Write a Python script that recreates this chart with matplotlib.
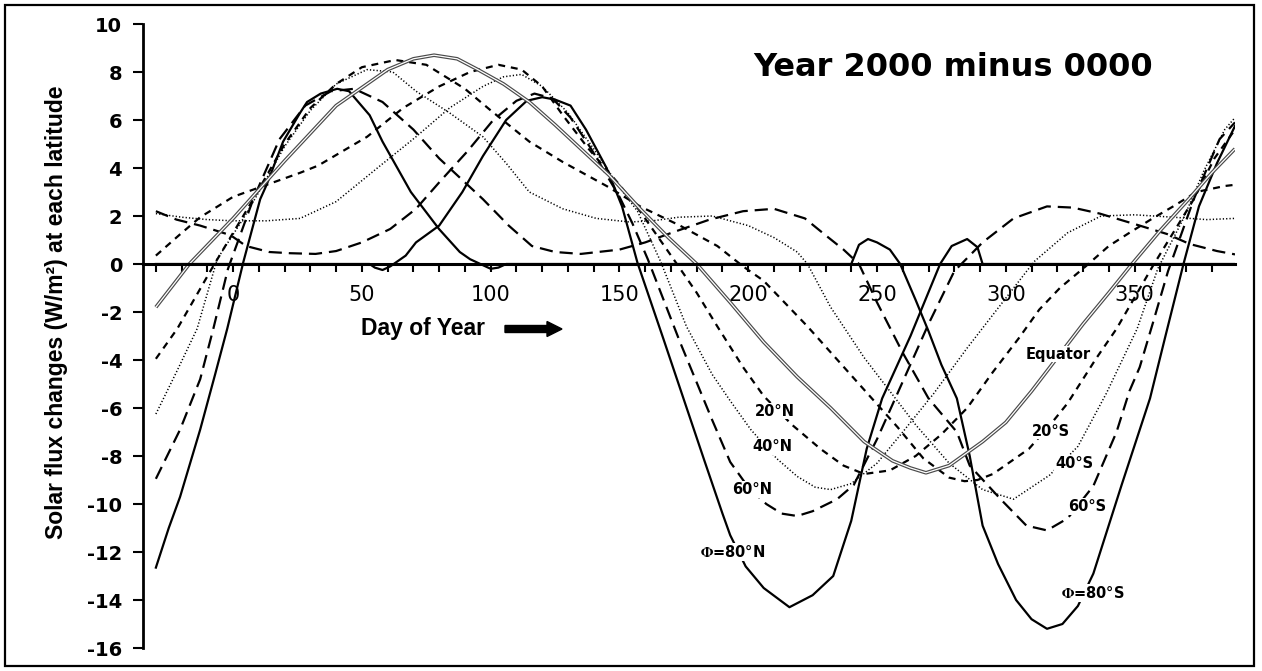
import numpy as np
import matplotlib
matplotlib.use("Agg")
import matplotlib.pyplot as plt
from matplotlib.patches import FancyArrow, Rectangle
from matplotlib.transforms import IdentityTransform

plt.rcParams['lines.scale_dashes'] = False
plt.rcParams['mathtext.fontset'] = 'stix'

# day of year vs. flux change (W/m^2), one pair of lists per latitude
eq_day = [-30, -17, 0, 20, 40, 60, 70, 78, 87, 95, 105, 115, 125, 135, 146, 158, 169, 180, 193,
          206, 219, 232, 245, 256, 263, 269, 278, 291, 300, 310, 320, 330, 340, 349, 360, 371, 380, 389]
eq_val = [-1.8, 0, 1.9, 4.3, 6.6, 8.1, 8.55, 8.7, 8.55, 8.1, 7.5, 6.75, 5.8, 4.8, 3.7, 2.3, 1.1, 0, -1.6,
          -3.25, -4.7, -6.0, -7.4, -8.2, -8.5, -8.7, -8.4, -7.4, -6.6, -5.3, -3.9, -2.5, -1.2, 0, 1.4, 2.7, 3.8, 4.8]

n20_day = [-30, -21, -12.8, -6, 0, 13, 26, 33, 52, 66, 80, 92, 103, 112, 120, 128, 138, 150, 158, 171,
           180, 188, 198, 206, 217, 228, 237, 245, 255, 265, 275, 285, 295, 305, 313, 321, 331, 340,
           348, 357, 365, 374, 385, 389]
n20_val = [0.35, 1.2, 1.95, 2.4, 2.8, 3.3, 3.8, 4.1, 5.3, 6.5, 7.4, 8.0, 8.3, 8.1, 7.4, 6.2, 4.8, 3.3, 2.2, 0.2,
           -1.2, -2.6, -4.3, -5.5, -6.7, -7.7, -8.4, -8.75, -8.6, -8.0, -7.1, -6.0, -4.5, -3.1, -1.9, -1.0, -0.1, 0.75,
           1.3, 1.9, 2.4, 3.0, 3.25, 3.3]

n40_day = [-30, -20, -10, 0, 13, 26, 40, 56, 71, 84, 97, 105, 112, 120, 130, 140, 150, 157, 166, 176,
           186, 193, 201, 211, 219, 226, 232, 240, 250, 260, 272, 285, 298, 311, 324, 337, 350, 365, 378, 389]
n40_val = [2.1, 1.95, 1.85, 1.8, 1.8, 1.9, 2.6, 4.0, 5.3, 6.5, 7.4, 7.8, 7.9, 7.4, 6.3, 4.8, 3.2, 2.2, 0.1, -2.6,
           -4.6, -5.7, -6.9, -8.1, -8.85, -9.3, -9.4, -9.15, -8.3, -7.0, -5.4, -3.5, -1.7, 0.1, 1.3, 2.0, 2.05, 1.95,
           1.85, 1.9]

n60_day = [-30, -22, -12.8, -1, 5, 14, 22, 32, 40, 50, 61, 71, 80, 91, 101, 110, 117, 124, 131, 139,
           150, 155, 161, 173.5, 186, 193, 200, 207, 213, 219, 225, 234.5, 241, 250, 260, 270, 280, 291,
           303, 316, 326, 336.5, 352, 362.6, 371.5, 382, 389]
n60_val = [2.2, 1.85, 1.6, 1.2, 0.75, 0.5, 0.45, 0.42, 0.54, 0.9, 1.46, 2.3, 3.4, 4.7, 6.0, 6.8, 7.1, 6.9, 6.1, 4.8,
           2.8, 1.7, 0.2, -3.25, -6.5, -8.25, -9.3, -10.0, -10.4, -10.5, -10.3, -9.8, -9.2, -7.3, -4.9, -2.5, -0.3, 0.9,
           1.9, 2.4, 2.35, 2.1, 1.6, 1.25, 0.83, 0.54, 0.4]

n80_day = [-30, 53, 55, 58, 61, 63, 67, 71, 80, 89, 97, 106, 114, 120, 125, 131, 137, 145, 151, 157,
           167, 175, 183, 190, 193, 199, 206, 216, 225, 233, 240, 246, 252, 263, 274.5, 279, 285, 289, 291, 389]
n80_val = [0, 0, -0.15, -0.25, -0.1, 0.05, 0.35, 0.9, 1.6, 3.0, 4.5, 6.0, 6.8, 6.95, 6.85, 6.6, 5.6, 4.0, 2.4, 0.05,
           -3.1, -5.65, -8.2, -10.4, -11.3, -12.6, -13.5, -14.3, -13.8, -13.0, -10.7, -7.7, -5.6, -3.0, 0, 0.75, 1.04,
           0.7, 0, 0]

s20_day = [-30, -21.7, -7.8, 0, 7.8, 20, 30, 40, 50, 63, 75, 90, 100, 115, 128, 145, 158, 173.5, 188, 198,
           206, 223, 238, 248, 258, 268, 278, 284, 289, 295, 309, 318, 324, 335, 343, 357, 365, 373, 381, 389]
s20_val = [-3.95, -2.7, -0.1, 1.3, 2.7, 5.0, 6.5, 7.5, 8.2, 8.5, 8.3, 7.3, 6.4, 5.1, 4.25, 3.25, 2.4, 1.6, 0.75, -0.1,
           -0.7, -2.6, -4.4, -5.6, -6.8, -8.1, -8.9, -9.05, -9.0, -8.75, -7.7, -6.6, -5.8, -3.95, -2.7, -0.1, 1.3, 2.7,
           4.4, 5.6]

s40_day = [-30, -22, -14, -6.2, 4, 10, 20, 30, 40, 52, 62, 71, 84, 97, 106, 115, 128, 141, 154, 163,
           173, 186, 200, 210, 219, 223, 232, 245, 255, 265, 278, 291, 303, 317, 328, 339, 351, 359, 369,
           377, 385, 389]
s40_val = [-6.25, -4.5, -2.7, 0.2, 1.9, 3.0, 4.9, 6.4, 7.5, 8.1, 8.0, 7.2, 6.3, 5.3, 4.2, 3.0, 2.3, 1.9, 1.75, 1.8,
           1.95, 2.0, 1.6, 1.1, 0.5, 0, -1.8, -3.9, -5.3, -6.7, -8.3, -9.4, -9.8, -8.8, -7.6, -5.4, -2.7, -0.2, 1.9,
           3.9, 5.6, 6.1]

s60_day = [-30, -20.6, -12.8, -7.7, -2, 7.8, 18, 28, 38, 47, 58, 70, 80, 97, 107, 116, 125, 135, 150, 160,
           171, 185, 198, 210, 222, 230, 237, 243, 250, 260, 270, 281, 286, 298, 308, 316, 324, 334, 343,
           348, 352, 357, 363, 373, 383, 389]
s60_val = [-8.95, -6.9, -4.8, -2.7, -0.2, 2.7, 5.2, 6.6, 7.2, 7.3, 6.75, 5.6, 4.4, 2.7, 1.6, 0.75, 0.5, 0.42, 0.6, 0.9,
           1.33, 1.85, 2.2, 2.3, 1.9, 1.2, 0.6, 0, -1.6, -3.7, -5.6, -7.0, -8.4, -9.8, -10.9, -11.1, -10.6, -9.25, -7.0,
           -5.3, -4.3, -2.5, -0.3, 2.7, 5.2, 5.9]

s80_day = [-30, -25, -20.6, -12.8, -7, -2.3, 4, 10.5, 13, 19.4, 26, 28.7, 34, 40.4, 45, 53, 58, 69, 80,
           88, 92, 96, 100, 103, 106, 240, 243, 246.5, 250, 255, 259, 265, 270, 275, 281, 286, 291, 297,
           304, 310, 316, 322, 328, 334, 345, 356, 362, 369, 375, 382, 389]
s80_val = [-12.65, -11.0, -9.7, -6.9, -4.6, -2.7, 0.1, 2.7, 3.3, 5.1, 6.3, 6.75, 7.1, 7.3, 7.2, 6.2, 5.1, 3.0, 1.45,
           0.5, 0.2, 0, -0.2, -0.15, 0, 0, 0.8, 1.04, 0.9, 0.6, 0, -1.5, -2.8, -4.2, -5.6, -8.0, -10.9, -12.5,
           -14.0, -14.8, -15.2, -15.0, -14.25, -12.9, -9.2, -5.6, -3.0, 0, 2.4, 4.2, 5.75]

# label text and its (day, value) position
curve_labels = [
    ("Equator", 320.3, -3.75),
    ("20°N", 210.2, -6.13),
    ("40°N", 209.2, -7.6),
    ("60°N", 201.7, -9.4),
    (r"$\mathbf{\Phi}$=80°N", 194.1, -12.0),
    ("20°S", 317.4, -6.96),
    ("40°S", 326.5, -8.3),
    ("60°S", 331.7, -10.1),
    (r"$\mathbf{\Phi}$=80°S", 333.9, -13.7),
]

fig = plt.figure(figsize=(12.62, 6.71), dpi=100)
ax = fig.add_axes([143 / 1262, 23 / 671, 1092 / 1262, 624 / 671])

long_dash = dict(color='black', lw=1.6, dashes=(9.5, 5.0))
short_dash = dict(color='black', lw=1.6, dashes=(5.0, 4.2))
dotted = dict(color='black', lw=1.1, dashes=(0.9, 1.5))
solid = dict(color='black', lw=1.6)

ax.plot(n80_day, n80_val, **solid)
ax.plot(s80_day, s80_val, **solid)
ax.plot(n60_day, n60_val, **long_dash)
ax.plot(s60_day, s60_val, **long_dash)
ax.plot(n40_day, n40_val, **dotted)
ax.plot(s40_day, s40_val, **dotted)
ax.plot(n20_day, n20_val, **short_dash)
ax.plot(s20_day, s20_val, **short_dash)
# equator drawn as a hollow double line
ax.plot(eq_day, eq_val, color='#4a4a4a', lw=2.6, solid_capstyle='butt')
ax.plot(eq_day, eq_val, color='white', lw=0.9, solid_capstyle='butt')

for txt, d, v in curve_labels:
    ax.text(d, v, txt, ha='center', va='center', fontsize=10.5, fontweight='bold',
            family='DejaVu Sans',
            bbox=dict(facecolor='white', edgecolor='none', pad=0.6))

ax.set_xlim(-35, 389)
ax.set_ylim(-16, 10)

for s in ['top', 'right']:
    ax.spines[s].set_visible(False)
ax.spines['bottom'].set_position(('data', 0))
ax.spines['bottom'].set_linewidth(2.2)
ax.spines['left'].set_linewidth(2.0)
ax.spines['left'].set_bounds(-16, 10)

xt = np.arange(-30, 390, 10)
ax.set_xticks(xt)
ax.set_xticklabels([str(t) if (t % 50 == 0 and 0 <= t <= 350) else '' for t in xt],
                   fontsize=15, family='DejaVu Sans')
ax.tick_params(axis='x', direction='out', length=6, width=1.5, pad=9)
ax.set_yticks(np.arange(-16, 11, 2))
ax.set_yticklabels([str(t) for t in np.arange(-16, 11, 2)], fontsize=14, fontweight='bold',
                   family='DejaVu Sans')
ax.tick_params(axis='y', direction='out', length=7, width=1.5, pad=8)

# annotations placed in pixels
fig.text(953 / 1262, 1 - 68 / 671, "Year 2000 minus 0000", fontsize=23, fontweight='bold',
         family='DejaVu Sans', ha='center', va='center')
fig.text(423 / 1262, 1 - 329 / 671, "Day of Year", fontsize=16.5, fontweight='bold',
         family='Liberation Sans', ha='center', va='center')
fig.text(57 / 1262, 1 - 312 / 671, "Solar flux changes (W/m²) at each latitude", fontsize=16.5,
         fontweight='bold', family='Liberation Sans', rotation=90, ha='center', va='center')

fig.patches.append(FancyArrow(505, 671 - 329, 57, 0, width=7, head_width=15, head_length=15,
                              length_includes_head=True, color='black',
                              transform=IdentityTransform(), figure=fig))
fig.patches.append(Rectangle((5, 5), 1249, 661, fill=False, lw=1.6, edgecolor='black',
                             transform=IdentityTransform(), figure=fig))

fig.savefig("out.png", dpi=100)
